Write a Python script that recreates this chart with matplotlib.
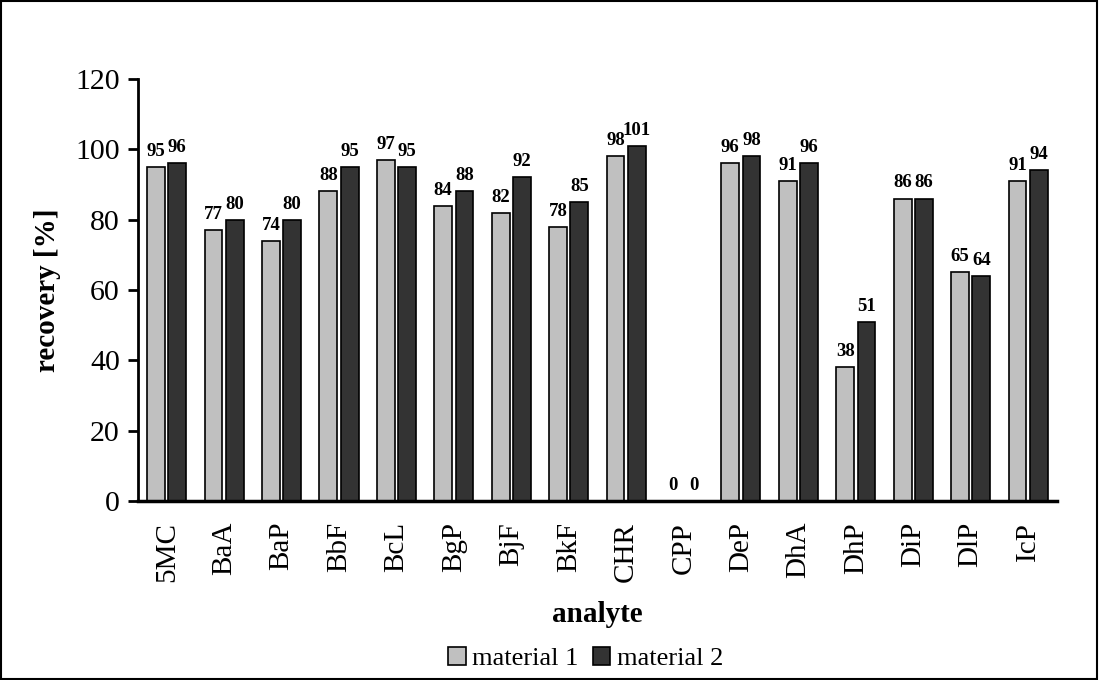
import matplotlib.pyplot as plt
import numpy as np

plt.rcParams['font.family'] = ['Liberation Serif', 'DejaVu Serif']

analytes = ['5MC', 'BaA', 'BaP', 'BbF', 'BcL', 'BgP', 'BjF', 'BkF', 'CHR',
            'CPP', 'DeP', 'DhA', 'DhP', 'DiP', 'DlP', 'IcP']
material1 = [95, 77, 74, 88, 97, 84, 82, 78, 98, 0, 96, 91, 38, 86, 65, 91]
material2 = [96, 80, 80, 95, 95, 88, 92, 85, 101, 0, 98, 96, 51, 86, 64, 94]

fig = plt.figure(figsize=(10.99, 6.80), dpi=100)
ax = fig.add_axes([0.1256, 0.263, 0.836, 0.621])

x = np.arange(len(analytes))
w = 0.31
off = 0.185
b1 = ax.bar(x - off, material1, w, color='#c0c0c0', edgecolor='black',
            linewidth=1.2, label='material 1')
b2 = ax.bar(x + off, material2, w, color='#333333', edgecolor='black',
            linewidth=1.2, label='material 2')

for xi, v in zip(x, material1):
    ax.text(xi - off, v + 2, str(v), ha='center', va='bottom',
            fontsize=13.5, fontweight='bold')
for xi, v in zip(x, material2):
    ax.text(xi + off, v + 2, str(v), ha='center', va='bottom',
            fontsize=13.5, fontweight='bold')

ax.set_xlim(-0.5, len(analytes) - 0.5)
ax.set_ylim(0, 120)
ax.set_yticks(range(0, 121, 20))
ax.tick_params(axis='y', labelsize=21.5, width=2, length=7, pad=6,
               direction='out')
ax.tick_params(axis='x', length=0, labelsize=21, pad=15)
ax.set_xticks(x)
ax.set_xticklabels(analytes, rotation=90)
ax.spines['top'].set_visible(False)
ax.spines['right'].set_visible(False)
ax.spines['left'].set_linewidth(2)
ax.spines['bottom'].set_linewidth(2.5)

ax.set_ylabel('recovery [%]', fontsize=21, fontweight='bold', labelpad=10)
ax.set_xlabel('analyte', fontsize=21, fontweight='bold', labelpad=14)

fig.legend(handles=[b1, b2], loc='center', bbox_to_anchor=(0.533, 0.031),
           ncol=2, frameon=False, fontsize=19, handlelength=0.65,
           handleheight=0.65, handletextpad=0.25, columnspacing=0.55,
           borderpad=0, borderaxespad=0)

fig.patches.append(plt.Rectangle((0.001, 0.002), 0.997, 0.996,
                                 transform=fig.transFigure, fill=False,
                                 edgecolor='black', linewidth=1.5))

fig.savefig('out.png', dpi=100)
